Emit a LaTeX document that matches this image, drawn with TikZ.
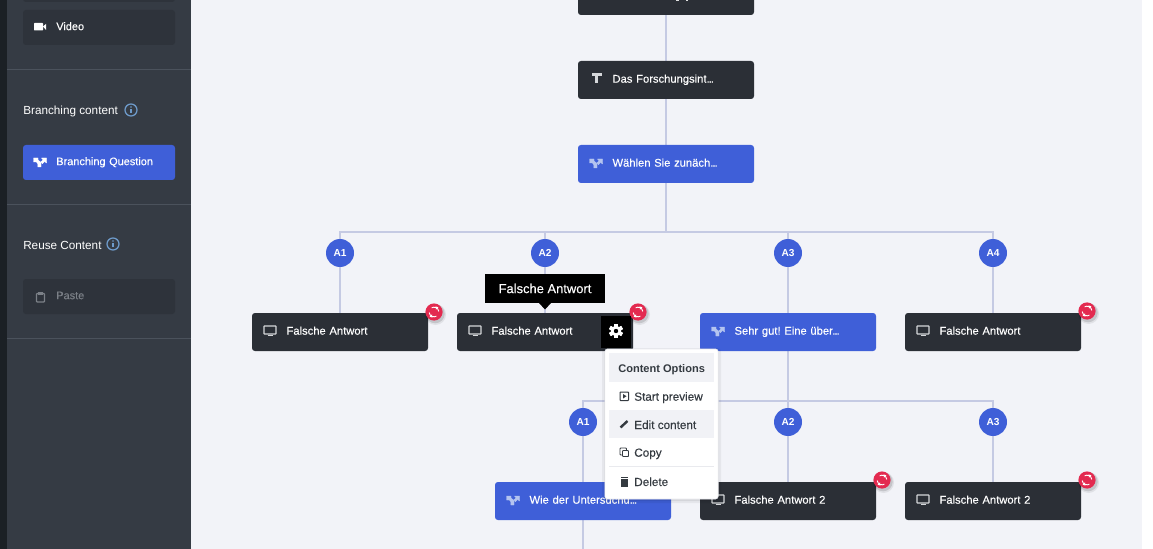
\documentclass[tikz,border=0pt]{standalone}
\usepackage{fontspec}
\setmainfont[FakeBold=0.18]{Liberation Sans}
\newfontfamily\plainf{Liberation Sans}
\newfontfamily\boldf{Liberation Sans Bold}
\usetikzlibrary{backgrounds,calc}
\frenchspacing
\newcommand{\tdots}{.\kern-0.7pt.\kern-0.7pt.}
\definecolor{canvasc}{HTML}{F2F3F8}
\definecolor{sidec}{HTML}{353B44}
\definecolor{stripc}{HTML}{1B2025}
\definecolor{sideline}{HTML}{4B525C}
\definecolor{sidebox}{HTML}{2E333B}
\definecolor{darkc}{HTML}{2B2F36}
\definecolor{bluec}{HTML}{3F5FD8}
\definecolor{linec}{HTML}{C5CAE3}
\definecolor{badgec}{HTML}{E32A50}
\definecolor{iconb}{HTML}{B4C4F0}
\definecolor{icong}{HTML}{D5D7DA}
\definecolor{infoc}{HTML}{6E9BCB}
\definecolor{menut}{HTML}{343A40}
\definecolor{menuh}{HTML}{F1F2F6}
\definecolor{menul}{HTML}{E9EAEE}
\definecolor{pastec}{HTML}{7B8087}
\pgfdeclarelayer{canvaslayer}
\pgfdeclarelayer{connlayer}
\pgfsetlayers{canvaslayer,connlayer,main}
\tikzset{
  x=0.75pt,y=-0.75pt,
  flowbox/.style={rounded corners=2.2pt,minimum width=132pt,minimum height=28.5pt,text width=132pt,
    inner xsep=0pt,inner ysep=0pt,align=left,text=white,font=\fontsize{8.4}{10}\selectfont,
    text height=6.2pt,text depth=2.2pt,
    execute at begin node=\hspace*{25.9pt}},
  darkbox/.style={flowbox,fill=darkc},
  bluebox/.style={flowbox,fill=bluec},
  sidebtn/.style={rounded corners=2.2pt,minimum width=114pt,minimum height=26.25pt,text width=114pt,
    inner xsep=0pt,inner ysep=0pt,align=left,text=white,font=\fontsize{8.2}{10}\selectfont,
    text height=6.2pt,text depth=2.2pt,
    execute at begin node=\hspace*{25pt}},
  answer/.style={circle,fill=bluec,minimum size=21pt,inner sep=0pt,text=white,font=\boldf\fontsize{7.6}{9}\selectfont},
  conn/.style={draw=linec,line width=1.5pt},
  sidetext/.style={anchor=base west,inner sep=0pt,text=white,font=\plainf\fontsize{8.8}{10}\selectfont},
  menutext/.style={anchor=base west,inner sep=0pt,text=menut,font=\fontsize{8.8}{10}\selectfont},
}
% icons: #1 x, #2 y of icon centre, #3 colour
\newcommand{\monicon}[3]{\begin{scope}[shift={(#1,#2)}]
  \draw[#3,line width=0.95pt,rounded corners=0.4pt] (-6,-4.5) rectangle (6,3.5);
  \draw[#3,line width=1pt] (-2.5,5.2) -- (2.5,5.2);
\end{scope}}
\newcommand{\branchicon}[3]{\begin{scope}[shift={(#1,#2)}]
  \fill[#3,draw=#3,line width=0.3pt,line join=round] (-6.5,-4) -- (-2,-4) -- (-2,-2) -- (1,0.5) -- (1,5) -- (-2.2,5) -- (-2.2,1.8) -- (-3.5,0) -- (-6.5,0) -- cycle;
  \fill[#3,draw=#3,line width=0.3pt,line join=round] (1.5,-4) -- (6.5,-4) -- (6.5,1) -- (4.8,-0.6) -- (2.4,1.8) -- (0.9,-0.2) -- (3.2,-2.2) -- cycle;
\end{scope}}
\newcommand{\refreshbadge}[2]{\begin{scope}[shift={(#1,#2)}]
  \fill[black,opacity=.07] (1.5,2.5) circle (10.5);
  \fill[black,opacity=.12] (1.2,1.8) circle (9.5);
  \fill[badgec] (0,0) circle (8.6);
  \draw[white,line width=0.7pt] (-4.8,0.6) arc (173:60:4.8);
  \draw[white,line width=0.7pt] (4.8,-0.6) arc (-7:-120:4.8);
  \fill[white] (1.6,-5.6) -- (4.4,-4.6) -- (2,-2.4) -- cycle;
  \fill[white] (-1.6,5.6) -- (-4.4,4.6) -- (-2,2.4) -- cycle;
\end{scope}}
\newcommand{\infoicon}[2]{\begin{scope}[shift={(#1,#2)}]
  \draw[infoc,line width=0.95pt] (0,0) circle (6);
  \fill[infoc] (0,-3) circle (0.9);
  \draw[infoc,line width=1.1pt] (0,-1) -- (0,3.4);
\end{scope}}
\begin{document}
\begin{tikzpicture}
\useasboundingbox (0,0) rectangle (1153,549);
\begin{scope}
\clip (0,0) rectangle (1153,549);
\begin{pgfonlayer}{canvaslayer}
  \fill[white] (0,0) rectangle (1153,549);
  \fill[canvasc] (191,0) rectangle (1142,549);
  \fill[sidec] (7,0) rectangle (191,549);
  \fill[stripc] (0,0) rectangle (7,549);
  \foreach \yy in {69.5,204.5,338.5}{\draw[sideline,line width=0.75pt] (7,\yy) -- (191,\yy);}
\end{pgfonlayer}

% sidebar
\fill[sidebox,rounded corners=2.2pt] (23,-20) rectangle (175,2);
\node[sidebtn,fill=sidebox] (video) at (99,27.5) {Video};
\fill[white,rounded corners=0.5pt] (34,23) rectangle (43,30.5);
\fill[white] (43,26.5) -- (46,24) -- (46,30) -- cycle;
\node[sidetext] (brlabel) at (23,114.6) {Branching content};
\infoicon{131}{110}
\node[sidebtn,fill=bluec] (brq) at (99,162.5) {Branching Question};
\branchicon{40}{162}{white}
\node[sidetext] (relabel) at (23,249) {Reuse Content};
\infoicon{113}{244}
\node[sidebtn,fill=sidebox,text=pastec] (paste) at (99,296.5) {Paste};
\draw[pastec,line width=0.9pt,rounded corners=0.5pt] (36.5,293.5) rectangle (44.5,302);
\fill[pastec] (38,292) rectangle (43,294.5);

% main flow
\node[darkbox] (top) at (666,-4) {};
\node[darkbox] (das) at (666,80) {Das Forschungsint\tdots};
\node[bluebox] (wq) at (666,164) {W\"ahlen Sie zun\"ach\tdots};

\coordinate (bus1) at (666,232);
\node[answer] (c1) at (340,253) {A1};
\node[answer] (c2) at (545,253) {A2};
\node[answer] (c3) at (788,253) {A3};
\node[answer] (c4) at (993,253) {A4};

\node[darkbox] (b1) at (340,332) {Falsche Antwort};
\node[darkbox] (b2) at (545,332) {Falsche Antwort};
\node[bluebox] (b3) at (788,332) {Sehr gut! Eine \"uber\tdots};
\node[darkbox] (b4) at (993,332) {Falsche Antwort};

\coordinate (bus2) at (788,401);
\node[answer] (c5) at (583,422) {A1};
\node[answer] (c6) at (788,422) {A2};
\node[answer] (c7) at (993,422) {A3};

\node[bluebox] (d1) at (583,501) {Wie der Untersuchu\tdots};
\node[darkbox] (d2) at (788,501) {Falsche Antwort 2};
\node[darkbox] (d3) at (993,501) {Falsche Antwort 2};
\coordinate (bottom) at (583,552);

\begin{pgfonlayer}{connlayer}
  \draw[conn] (top) -- (das);
  \draw[conn] (das) -- (wq);
  \draw[conn] (wq) -- (bus1);
  \draw[conn] (c1) |- (bus1);
  \draw[conn] (c2) |- (bus1);
  \draw[conn] (c3) |- (bus1);
  \draw[conn] (c4) |- (bus1);
  \draw[conn] (c1) -- (b1);
  \draw[conn] (c2) -- (b2);
  \draw[conn] (c3) -- (b3);
  \draw[conn] (c4) -- (b4);
  \draw[conn] (b3) -- (bus2);
  \draw[conn] (c5) |- (bus2);
  \draw[conn] (c6) |- (bus2);
  \draw[conn] (c7) |- (bus2);
  \draw[conn] (c5) -- (d1);
  \draw[conn] (c6) -- (d2);
  \draw[conn] (c7) -- (d3);
  \draw[conn] (d1) -- (bottom);
\end{pgfonlayer}

% remnants of the cut-off top box's text
\fill[white,opacity=.85] (676,0) rectangle (679,1.2);
\fill[white,opacity=.85] (686,0) rectangle (687.5,1.2);

% box icons
\fill[icong] (592,73.5) rectangle (601.5,76);
\fill[icong] (595.4,73.5) rectangle (598.2,83.5);
\branchicon{596}{163}{iconb}
\monicon{270}{330.5}{icong}
\monicon{475}{330.5}{icong}
\branchicon{718}{331}{iconb}
\monicon{923}{330.5}{icong}
\branchicon{513}{500}{iconb}
\monicon{718}{499.5}{icong}
\monicon{923}{499.5}{icong}
\refreshbadge{434}{312}
\refreshbadge{638}{312}
\refreshbadge{1087}{311}
\refreshbadge{882}{480}
\refreshbadge{1087}{480}

% gear button
\node[fill=black,minimum width=22.5pt,minimum height=24pt,inner sep=0pt] (gear) at (616,332) {};
\begin{scope}[shift={(616,331)}]
  \foreach \a in {0,60,...,300}{\fill[white,rotate=\a] (-1.8,-7) rectangle (1.8,7);}
  \fill[white] (0,0) circle (5.3);
  \fill[black] (0,0) circle (2.2);
\end{scope}

% tooltip
\node[fill=black,minimum width=90pt,minimum height=21.75pt,inner sep=0pt,text=white,font=\fontsize{9.7}{11}\selectfont] (tip) at (545,288.5) {Falsche Antwort};
\fill[black] (539,303) -- (551,303) -- (545,309.5) -- cycle;

% menu
\fill[black,opacity=.05,rounded corners=3pt] (602,348) rectangle (721,503);
\fill[black,opacity=.07,rounded corners=3pt] (604,349) rectangle (719,501);
\node[draw=menul,line width=0.5pt,fill=white,rounded corners=2pt,minimum width=85pt,minimum height=112.5pt,inner sep=0pt] (menu) at (661.5,424) {};
\fill[menuh] (609,353) rectangle (714,382);
\fill[menuh] (609,410) rectangle (714,438);
\draw[menul,line width=0.5pt] (609,466.5) -- (714,466.5);
\node[menutext,font=\boldf\fontsize{8.3}{10}\selectfont] (mh) at (618,372.2) {Content Options};
\node[menutext] (m1) at (634,400.7) {Start preview};
\node[menutext] (m2) at (634,429) {Edit content};
\node[menutext] (m3) at (634,456.7) {Copy};
\node[menutext] (m4) at (634,486) {Delete};
\draw[menut,line width=0.75pt,rounded corners=0.5pt] (620,392) rectangle (628.5,400.5);
\fill[menut] (623,394) -- (626.5,396.2) -- (623,398.5) -- cycle;
\draw[menut,line width=1.8pt] (620.5,427.5) -- (627.5,421);
\draw[menut,line width=0.7pt,rounded corners=0.5pt] (620,448) rectangle (626.5,455);
\draw[menut,line width=0.7pt,fill=white,rounded corners=0.5pt] (622.5,450.5) rectangle (628.5,456.5);
\fill[menut] (621.2,478.5) rectangle (627.5,486.5);
\fill[menut] (620.5,476.8) rectangle (628.2,478);
\end{scope}
\end{tikzpicture}
\end{document}
